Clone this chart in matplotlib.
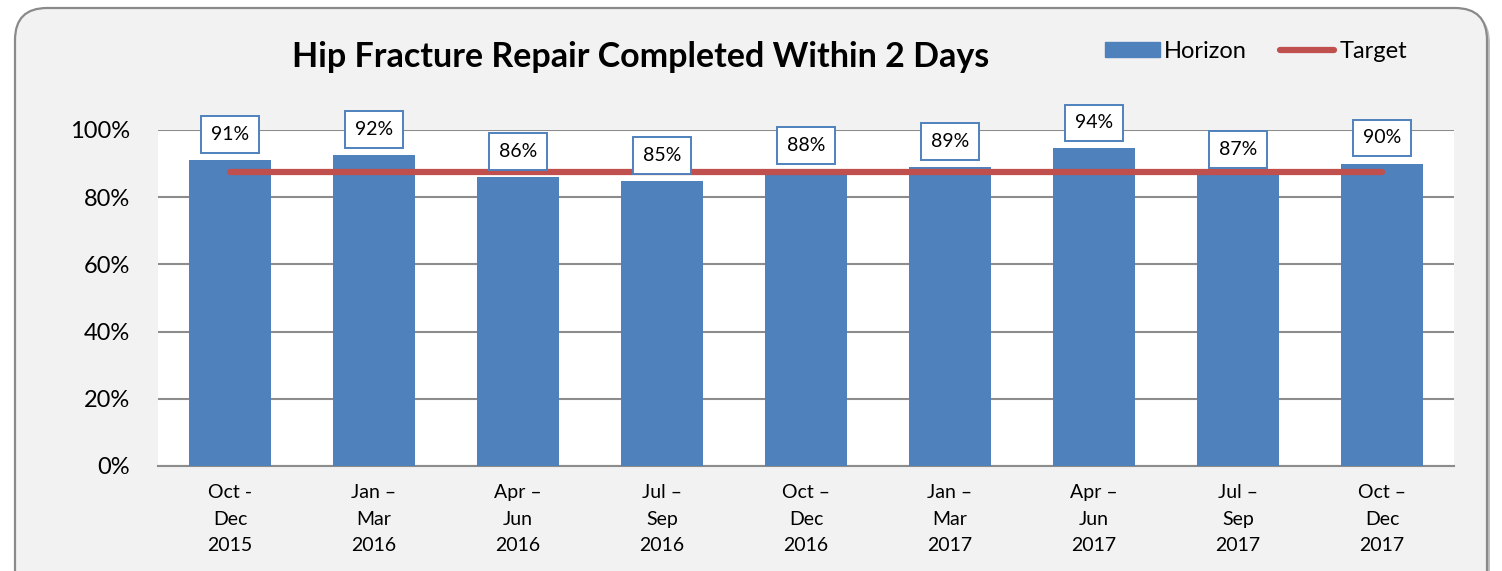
import matplotlib
matplotlib.use('Agg')
import matplotlib.pyplot as plt
from matplotlib.patches import FancyBboxPatch, Patch
from matplotlib.lines import Line2D
from matplotlib.transforms import IdentityTransform
from matplotlib.ticker import PercentFormatter

# data
quarters = ['Oct -\nDec\n2015', 'Jan \u2013\nMar\n2016', 'Apr \u2013\nJun\n2016',
            'Jul \u2013\nSep\n2016', 'Oct \u2013\nDec\n2016', 'Jan \u2013\nMar\n2017',
            'Apr \u2013\nJun\n2017', 'Jul \u2013\nSep\n2017', 'Oct \u2013\nDec\n2017']
horizon = [0.91, 0.925, 0.86, 0.848, 0.877, 0.889, 0.945, 0.866, 0.90]
labels = ['91%', '92%', '86%', '85%', '88%', '89%', '94%', '87%', '90%']
target = [0.875] * len(quarters)

BLUE = '#4F81BD'
RED = '#C0504D'
GRID = '#8C8C8C'

plt.rcParams['font.family'] = ['Lato', 'DejaVu Sans']

W, H = 1502, 571
fig = plt.figure(figsize=(W / 100, H / 100), dpi=100)
fig.patch.set_facecolor('white')

# rounded panel behind everything (pixel coords), with a faint shadow
shadow = FancyBboxPatch((18, -40), 1472, 600, boxstyle='round,pad=0,rounding_size=32',
                        transform=IdentityTransform(), fc='#BFBFBF', ec='none', zorder=0)
panel = FancyBboxPatch((15, -40), 1472, 603, boxstyle='round,pad=0,rounding_size=32',
                       transform=IdentityTransform(), fc='#F2F2F2', ec='#8A8A8A', lw=1.6, zorder=1)
fig.patches.extend([shadow, panel])

ax = fig.add_axes([158 / W, (H - 466) / H, 1296 / W, 336 / H])
ax.set_zorder(2)
ax.set_facecolor('white')

x = list(range(len(quarters)))
ax.bar(x, horizon, width=0.57, color=BLUE, zorder=3)
ax.plot(x, target, color=RED, lw=4.5, solid_capstyle='round', zorder=4)

for xi, v, lab in zip(x, horizon, labels):
    ax.annotate(lab, (xi, v), xytext=(0, 18.5), textcoords='offset points',
                ha='center', va='center', fontsize=14, zorder=5,
                bbox=dict(boxstyle='square,pad=0.5', fc='white', ec=BLUE, lw=1.4))

ax.set_xlim(-0.5, len(quarters) - 0.5)
ax.set_ylim(0, 1.0)
ax.set_yticks([0, 0.2, 0.4, 0.6, 0.8, 1.0])
ax.yaxis.set_major_formatter(PercentFormatter(1.0, decimals=0))
ax.set_xticks(x)
ax.set_xticklabels(quarters, fontsize=14, linespacing=1.68)
ax.tick_params(axis='y', labelsize=17, length=0, pad=20)
ax.tick_params(axis='x', length=0, pad=13)
ax.grid(axis='y', color=GRID, lw=1.5, zorder=1)
ax.set_axisbelow(True)
for s in ['top', 'right', 'left']:
    ax.spines[s].set_visible(False)
ax.spines['bottom'].set_color(GRID)
ax.spines['bottom'].set_linewidth(1.5)

fig.text(641 / W, 1 - 57 / H, 'Hip Fracture Repair Completed Within 2 Days',
         ha='center', va='center', fontsize=24.5, fontweight='bold')

handles = [Patch(color=BLUE, label='Horizon'),
           Line2D([0], [0], color=RED, lw=4.5, solid_capstyle='round', label='Target')]
fig.legend(handles=handles, loc='center', bbox_to_anchor=(1256 / W, 1 - 51 / H),
           ncol=2, frameon=False, fontsize=17, handlelength=2.3, handleheight=0.6,
           handletextpad=0.2, columnspacing=1.4)

fig.savefig('out.png', dpi=100)
